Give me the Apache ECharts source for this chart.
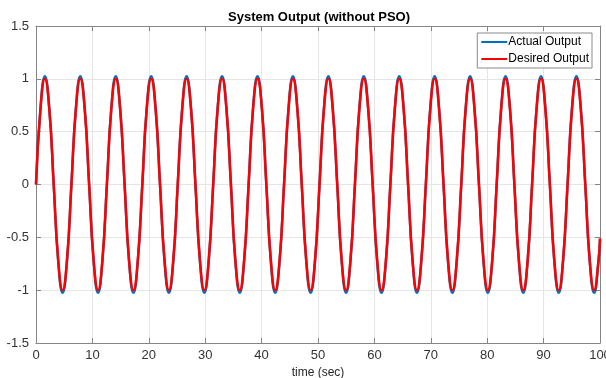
<!DOCTYPE html>
<html>
<head>
<meta charset="utf-8">
<script src="https://cdn.jsdelivr.net/npm/echarts@6/dist/echarts.min.js"></script>
<style>html,body{margin:0;padding:0;background:#fff}#c{width:606px;height:378px}</style>
</head>
<body>
<div id="c"></div>
<script>
const titleText = "System Output (without PSO)";
const xLabel = "time (sec)";
const seriesNames = ["Actual Output", "Desired Output"];
const xTicks = [0, 10, 20, 30, 40, 50, 60, 70, 80, 90, 100];
const yTicks = [-1.5, -1, -0.5, 0, 0.5, 1, 1.5];

const time = [0,0.79,1.57,2.36,3.14,3.93,4.71,5.50,6.28,7.07,7.85,8.64,9.42,10.21,11.00,11.78,12.57,13.35,14.14,14.92,15.71,16.49,17.28,18.06,18.85,19.63,20.42,21.21,21.99,22.78,23.56,24.35,25.13,25.92,26.70,27.49,28.27,29.06,29.85,30.63,31.42,32.20,32.99,33.77,34.56,35.34,36.13,36.91,37.70,38.48,39.27,40.06,40.84,41.63,42.41,43.20,43.98,44.77,45.55,46.34,47.12,47.91,48.69,49.48,50.27,51.05,51.84,52.62,53.41,54.19,54.98,55.76,56.55,57.33,58.12,58.90,59.69,60.48,61.26,62.05,62.83,63.62,64.40,65.19,65.97,66.76,67.54,68.33,69.12,69.90,70.69,71.47,72.26,73.04,73.83,74.61,75.40,76.18,76.97,77.75,78.54,79.33,80.11,80.90,81.68,82.47,83.25,84.04,84.82,85.61,86.39,87.18,87.96,88.75,89.54,90.32,91.11,91.89,92.68,93.46,94.25,95.03,95.82,96.60,97.39,98.17,98.96,99.75,100];

const actual = [
0,0.72,1.025,0.72,0,-0.72,-1.025,-0.72,
0,0.72,1.025,0.72,0,-0.72,-1.025,-0.72,
0,0.72,1.025,0.72,0,-0.72,-1.025,-0.72,
0,0.72,1.025,0.72,0,-0.72,-1.025,-0.72,
0,0.72,1.025,0.72,0,-0.72,-1.025,-0.72,
0,0.72,1.025,0.72,0,-0.72,-1.025,-0.72,
0,0.72,1.025,0.72,0,-0.72,-1.025,-0.72,
0,0.72,1.025,0.72,0,-0.72,-1.025,-0.72,
0,0.72,1.025,0.72,0,-0.72,-1.025,-0.72,
0,0.72,1.025,0.72,0,-0.72,-1.025,-0.72,
0,0.72,1.025,0.72,0,-0.72,-1.025,-0.72,
0,0.72,1.025,0.72,0,-0.72,-1.025,-0.72,
0,0.72,1.025,0.72,0,-0.72,-1.025,-0.72,
0,0.72,1.025,0.72,0,-0.72,-1.025,-0.72,
0,0.72,1.025,0.72,0,-0.72,-1.025,-0.72,
0,0.72,1.025,0.72,0,-0.72,-1.025,-0.72,
-0.52];

const desired = [
0,0.71,1,0.71,0,-0.71,-1,-0.71,
0,0.71,1,0.71,0,-0.71,-1,-0.71,
0,0.71,1,0.71,0,-0.71,-1,-0.71,
0,0.71,1,0.71,0,-0.71,-1,-0.71,
0,0.71,1,0.71,0,-0.71,-1,-0.71,
0,0.71,1,0.71,0,-0.71,-1,-0.71,
0,0.71,1,0.71,0,-0.71,-1,-0.71,
0,0.71,1,0.71,0,-0.71,-1,-0.71,
0,0.71,1,0.71,0,-0.71,-1,-0.71,
0,0.71,1,0.71,0,-0.71,-1,-0.71,
0,0.71,1,0.71,0,-0.71,-1,-0.71,
0,0.71,1,0.71,0,-0.71,-1,-0.71,
0,0.71,1,0.71,0,-0.71,-1,-0.71,
0,0.71,1,0.71,0,-0.71,-1,-0.71,
0,0.71,1,0.71,0,-0.71,-1,-0.71,
0,0.71,1,0.71,0,-0.71,-1,-0.71,
-0.51];

const font = "'Liberation Sans', Arial, Helvetica, sans-serif";
const axisGray = '#858585';
const chart = echarts.init(document.getElementById('c'), null, {renderer: 'canvas'});

const xMin = xTicks[0], xMax = xTicks[xTicks.length-1], xInt = xTicks[1]-xTicks[0];
const yMin = yTicks[0], yMax = yTicks[yTicks.length-1], yInt = yTicks[1]-yTicks[0];

function fmtY(v){ return String(Math.round(v*10)/10); }

const baseX = {
  type: 'value', min: xMin, max: xMax, interval: xInt,
  axisLine: {show: true, onZero: false, lineStyle: {color: axisGray, width: 1}},
  axisTick: {show: true, inside: true, length: 5, lineStyle: {color: axisGray}},
  splitLine: {show: false}
};
const baseY = {
  type: 'value', min: yMin, max: yMax, interval: yInt,
  axisLine: {show: true, onZero: false, lineStyle: {color: axisGray, width: 1}},
  axisTick: {show: true, inside: true, length: 5, lineStyle: {color: axisGray}},
  splitLine: {show: false}
};

chart.setOption({
  animation: false,
  backgroundColor: '#fff',
  title: {
    text: titleText, left: 223, top: 6,
    textStyle: {fontFamily: font, fontSize: 13, fontWeight: 'bold', color: '#000'}
  },
  grid: {left: 36, right: 6, top: 26, bottom: 35, containLabel: false, outerBoundsMode: 'none'},
  legend: {
    orient: 'vertical', right: 14, top: 33,
    data: seriesNames,
    icon: 'rect', itemWidth: 26, itemHeight: 2, itemGap: 5,
    backgroundColor: '#fff', borderColor: '#8a8a8a', borderWidth: 1,
    padding: [3, 3, 3, 4],
    textStyle: {fontFamily: font, fontSize: 12, color: '#000', padding: [0,0,0,-4]}
  },
  xAxis: [
    Object.assign({}, baseX, {
      position: 'bottom',
      name: xLabel, nameLocation: 'middle', nameGap: 22,
      nameTextStyle: {fontFamily: font, fontSize: 12, color: '#262626'},
      axisLabel: {fontFamily: font, fontSize: 13, color: '#333', margin: 6},
      splitLine: {show: true, lineStyle: {color: '#e5e5e5', width: 1}}
    }),
    Object.assign({}, baseX, {position: 'top', axisLabel: {show: false}})
  ],
  yAxis: [
    Object.assign({}, baseY, {
      position: 'left',
      axisLabel: {fontFamily: font, fontSize: 13, color: '#333', margin: 7, formatter: fmtY},
      splitLine: {show: true, lineStyle: {color: '#e5e5e5', width: 1}}
    }),
    Object.assign({}, baseY, {position: 'right', axisLabel: {show: false}})
  ],
  series: [
    {
      name: seriesNames[0], type: 'line', xAxisIndex: 0, yAxisIndex: 0,
      data: time.map((t, i) => [t, actual[i]]),
      showSymbol: false, smooth: 0.5,
      lineStyle: {color: '#0072BD', width: 2.5}, itemStyle: {color: '#0072BD'}
    },
    {
      name: seriesNames[1], type: 'line', xAxisIndex: 0, yAxisIndex: 0,
      data: time.map((t, i) => [t, desired[i]]),
      showSymbol: false, smooth: 0.5,
      lineStyle: {color: '#FF0000', width: 2.5}, itemStyle: {color: '#FF0000'}
    }
  ]
});
</script>
</body>
</html>
